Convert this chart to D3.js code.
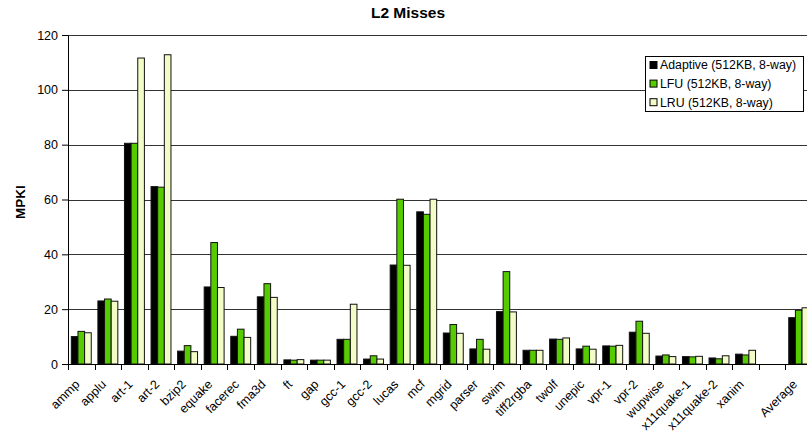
<!DOCTYPE html>
<html>
<head>
<meta charset="utf-8">
<script src="https://cdn.jsdelivr.net/npm/d3@7"></script>
<style>
  body { margin: 0; background: #fff; }
  svg { display: block; font-family: "Liberation Sans", Arial, sans-serif; }
</style>
</head>
<body>
<svg id="chart" width="807" height="440"></svg>
<script>
// Benchmarks (an empty slot separates the average)
const categories = ["ammp","applu","art-1","art-2","bzip2","equake","facerec","fma3d","ft","gap",
  "gcc-1","gcc-2","lucas","mcf","mgrid","parser","swim","tiff2rgba","twolf","unepic",
  "vpr-1","vpr-2","wupwise","x11quake-1","x11quake-2","xanim","","Average"];

const seriesNames = ["Adaptive (512KB, 8-way)", "LFU (512KB, 8-way)", "LRU (512KB, 8-way)"];

const adaptive = [10.0,23.0,80.5,64.7,4.7,28.1,10.1,24.5,1.5,1.4,
  9.0,1.8,36.1,55.5,11.3,5.5,19.1,5.0,9.1,5.5,
  6.6,11.6,2.9,2.7,2.2,3.6,null,16.9];
const lfu = [11.9,23.7,80.5,64.5,6.7,44.3,12.7,29.3,1.4,1.4,
  9.0,3.0,60.1,54.6,14.4,9.0,33.7,5.0,9.0,6.5,
  6.5,15.6,3.3,2.6,1.9,3.3,null,19.6];
const lru = [11.4,22.9,111.6,112.8,4.5,27.9,9.7,24.3,1.6,1.4,
  21.8,1.8,36.0,60.1,11.2,5.4,19.0,5.0,9.5,5.4,
  6.8,11.2,2.7,2.8,3.0,5.0,null,20.5];

const yTicks = [0,20,40,60,80,100,120];
const colors = ["#000000", "#56cc00", "#f1fcc6"];
const FONT = "Liberation Sans, Arial, sans-serif";

const svg = d3.select("#chart");
const margin = {left: 68, top: 35};
const plotW = 744, plotH = 329;

const x = d3.scaleBand().domain(d3.range(categories.length)).range([0, plotW])
  .paddingInner(0.25).paddingOuter(0.125);
const xSlot = d3.scaleBand().domain(d3.range(categories.length)).range([0, plotW]);
const xSub = d3.scaleBand().domain([0,1,2]).range([0, x.bandwidth()]);
const y = d3.scaleLinear().domain([0, 120]).range([plotH, 0]);

const g = svg.append("g").attr("transform", `translate(${margin.left},${margin.top})`);

// Gridlines
g.append("g").selectAll("line").data(yTicks.filter(d => d > 0)).join("line")
  .attr("x1", 0).attr("x2", plotW)
  .attr("y1", d => Math.round(y(d)) + 0.5).attr("y2", d => Math.round(y(d)) + 0.5)
  .attr("stroke", "#333").attr("stroke-width", 1);

// Bars
const series = [adaptive, lfu, lru];
series.forEach((vals, si) => {
  g.append("g").selectAll("rect")
    .data(vals.map((v, i) => ({v, i})).filter(d => d.v != null))
    .join("rect")
    .attr("x", d => x(d.i) + xSub(si))
    .attr("y", d => y(d.v))
    .attr("width", xSub.bandwidth())
    .attr("height", d => plotH - y(d.v))
    .attr("fill", colors[si])
    .attr("stroke", "#111")
    .attr("stroke-width", 1);
});

// Y axis
const yAxis = g.append("g")
  .call(d3.axisLeft(y).tickValues(yTicks).tickSize(6).tickSizeOuter(0).tickPadding(4));
yAxis.attr("font-family", FONT);
yAxis.select(".domain").attr("stroke", "#000");
yAxis.selectAll(".tick line").attr("stroke", "#000");
yAxis.selectAll("text").attr("font-size", 12.5).attr("fill", "#000");

// X axis with ticks at slot boundaries
const xAxisG = g.append("g").attr("transform", `translate(0,${plotH})`);
xAxisG.append("line").attr("x1", 0).attr("x2", plotW).attr("y1", 0.5).attr("y2", 0.5)
  .attr("stroke", "#000");
xAxisG.selectAll("line.tk").data(d3.range(categories.length + 1)).join("line")
  .attr("class", "tk")
  .attr("x1", i => Math.round(i * xSlot.step()) + 0.5)
  .attr("x2", i => Math.round(i * xSlot.step()) + 0.5)
  .attr("y1", 0).attr("y2", 6).attr("stroke", "#000");
xAxisG.selectAll("text").data(categories).join("text")
  .attr("transform", (d, i) => `translate(${xSlot(i) + xSlot.bandwidth() / 2 - 4},${18}) rotate(-45)`)
  .attr("text-anchor", "end")
  .attr("dy", "0.35em")
  .attr("font-size", 12.5)
  .attr("fill", "#000")
  .text(d => d);

// Title and axis label
svg.append("text").attr("x", 408).attr("y", 18).attr("text-anchor", "middle")
  .attr("font-size", 15.5).attr("font-weight", "bold").text("L2 Misses");
svg.append("text").attr("transform", "translate(25,202) rotate(-90)")
  .attr("text-anchor", "middle").attr("font-size", 13.5).attr("font-weight", "bold").text("MPKI");

// Legend
const lg = svg.append("g").attr("transform", "translate(645,56)");
lg.append("rect").attr("x", 0.5).attr("y", 0.5).attr("width", 158).attr("height", 55)
  .attr("fill", "#fff").attr("stroke", "#000");
seriesNames.forEach((name, i) => {
  const row = lg.append("g").attr("transform", `translate(5,${9 + i * 18.6})`);
  row.append("rect").attr("x", 0).attr("y", -3.5).attr("width", 7).attr("height", 7)
    .attr("fill", colors[i]).attr("stroke", "#000");
  row.append("text").attr("x", 10).attr("y", 0).attr("dy", "0.35em")
    .attr("font-size", 12.3).text(name);
});
</script>
</body>
</html>
